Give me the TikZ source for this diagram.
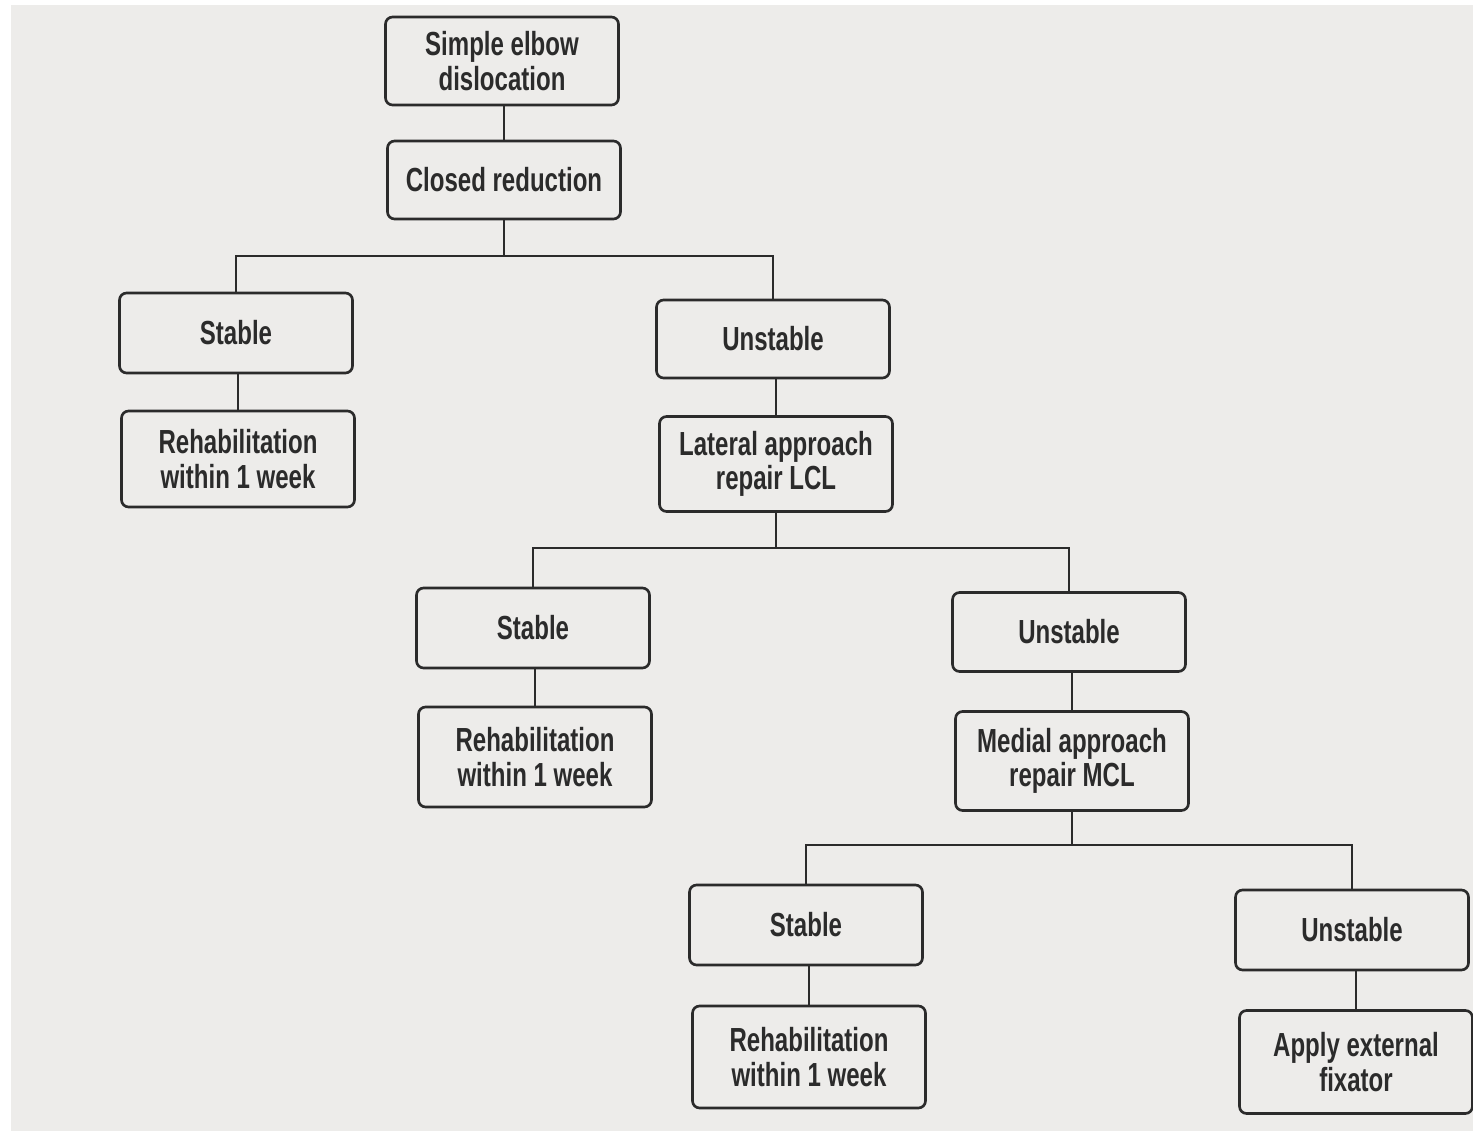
\documentclass[tikz,border=0pt]{standalone}
\usepackage{fontspec}
\newfontfamily\boxfont{Liberation Sans}[FakeStretch=0.72]
\definecolor{paper}{HTML}{EDECEA}
\definecolor{ink}{HTML}{2B2B2B}
\begin{document}
\begin{tikzpicture}[x=0.02cm,y=-0.02cm,
  box/.style={draw=ink, line width=1.5pt, rounded corners=4pt, fill=paper,
    minimum width=4.66cm, align=center, text=ink,
    font=\boxfont\bfseries\fontsize{19}{19.5}\selectfont},
  onebox/.style={box, minimum height=1.6cm},
  twobox/.style={box, minimum height=1.95cm},
  link/.style={draw=ink, line width=1.3pt}]
  % page
  \useasboundingbox (0,0) rectangle (1473,1131);
  \fill[white] (0,0) rectangle (1473,1131);
  \fill[paper] (11,5) rectangle (1473,1131);

  % level 0
  \node[onebox, minimum height=1.76cm] (sed) at (502,61) {Simple elbow\\dislocation};
  \node[onebox, minimum height=1.56cm] (cr) at (504,180) {Closed reduction};

  % level 1
  \node[onebox] (st1) at (236,333) {Stable};
  \node[twobox, minimum height=1.92cm] (rh1) at (238,459) {Rehabilitation\\within 1 week};
  \node[onebox, minimum height=1.56cm] (un1) at (773,339) {Unstable};
  \node[twobox, minimum height=1.9cm] (lat) at (776,464) {Lateral approach\\repair LCL};

  % level 2
  \node[onebox] (st2) at (533,628) {Stable};
  \node[twobox, minimum height=2cm] (rh2) at (535,757) {Rehabilitation\\within 1 week};
  \node[onebox, minimum height=1.58cm] (un2) at (1069,632) {Unstable};
  \node[twobox, minimum height=1.98cm] (med) at (1072,761) {Medial approach\\repair MCL};

  % level 3
  \node[onebox] (st3) at (806,925) {Stable};
  \node[twobox, minimum height=2.04cm] (rh3) at (809,1057) {Rehabilitation\\within 1 week};
  \node[onebox] (un3) at (1352,930) {Unstable};
  \node[twobox, minimum height=2.06cm] (ext) at (1356,1062) {Apply external\\fixator};

  % branch points
  \coordinate (j1) at (504,256);
  \coordinate (j2) at (776,548);
  \coordinate (j3) at (1072,845);

  % straight links between stacked boxes (vertical)
  \draw[link] (cr.north) -- (cr.north |- sed.south);
  \draw[link] (rh1.north) -- (rh1.north |- st1.south);
  \draw[link] (lat.north) -- (lat.north |- un1.south);
  \draw[link] (rh2.north) -- (rh2.north |- st2.south);
  \draw[link] (med.north) -- (med.north |- un2.south);
  \draw[link] (rh3.north) -- (rh3.north |- st3.south);
  \draw[link] (ext.north) -- (ext.north |- un3.south);

  % branching links
  \draw[link] (cr.south) -- (j1);
  \draw[link] (j1) -| (st1.north);
  \draw[link] (j1) -| (un1.north);

  \draw[link] (lat.south) -- (j2);
  \draw[link] (j2) -| (st2.north);
  \draw[link] (j2) -| (un2.north);

  \draw[link] (med.south) -- (j3);
  \draw[link] (j3) -| (st3.north);
  \draw[link] (j3) -| (un3.north);
\end{tikzpicture}
\end{document}
